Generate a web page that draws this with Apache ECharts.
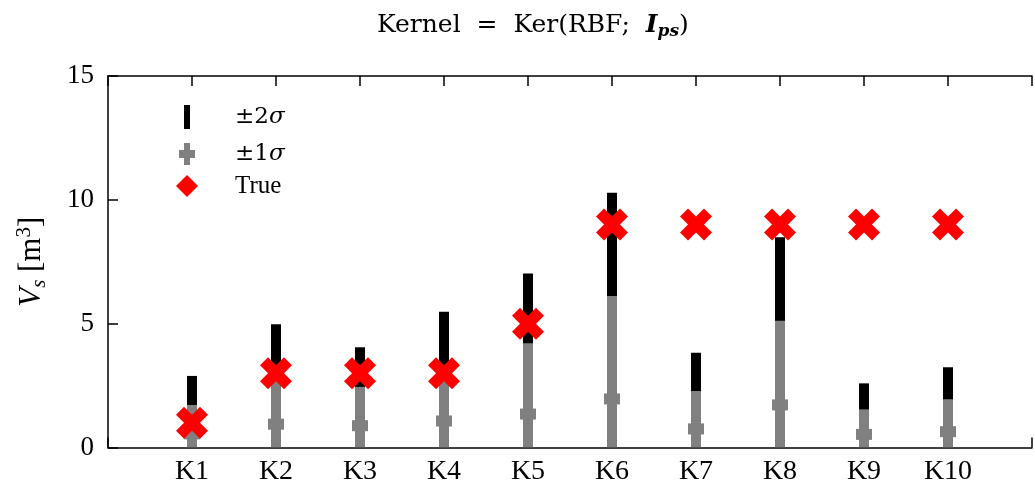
<!DOCTYPE html>
<html>
<head>
<meta charset="utf-8">
<script src="https://cdn.jsdelivr.net/npm/echarts@6/dist/echarts.min.js"></script>
<style>
  html, body { margin: 0; padding: 0; background: #fff; }
  #chart { width: 1035px; height: 491px; }
</style>
</head>
<body>
<div id="chart"></div>
<script>
// categories K1..K10 sit at x = 1..10
const categories = ['K1', 'K2', 'K3', 'K4', 'K5', 'K6', 'K7', 'K8', 'K9', 'K10']
// top of the +2 sigma band (black)
const upper2Sigma = [2.89, 4.98, 4.05, 5.48, 7.03, 10.29, 3.83, 8.49, 2.59, 3.24]
// top of the +1 sigma band (gray)
const upper1Sigma = [1.72, 2.95, 2.45, 3.27, 4.21, 6.12, 2.28, 5.12, 1.54, 1.95]
// predicted mean (gray tick)
const meanVals = [0.55, 0.94, 0.88, 1.07, 1.35, 1.96, 0.75, 1.72, 0.53, 0.64]
// true value (red cross)
const trueVals = [1, 3, 3, 3, 5, 9, 9, 9, 9, 9]
const yTicks = [0, 5, 10, 15]

const FONT = 'Liberation Serif'
const MATH = 'DejaVu Serif'
const toPairs = arr => arr.map((v, i) => [i + 1, v])
const crossPath = 'path://M0,2.5L2.5,0L5,2.5L7.5,0L10,2.5L7.5,5L10,7.5L7.5,10L5,7.5L2.5,10L0,7.5L2.5,5Z'

const chart = echarts.init(document.getElementById('chart'))

const legendRich = {
  n: { fontFamily: FONT, fontSize: 25, color: '#000' },
  m: { fontFamily: MATH, fontSize: 23, color: '#000' },
  s: { fontFamily: MATH, fontSize: 23, fontStyle: 'italic', color: '#000' }
}
const legendFormatter = name => {
  if (name === '±2σ') return '{m|±2}{s|σ}'
  if (name === '±1σ') return '{m|±1}{s|σ}'
  return '{n|' + name + '}'
}
const makeLegend = (name, icon, top) => ({
  data: [{ name: name, icon: icon }],
  left: 167,
  top: top,
  orient: 'vertical',
  itemWidth: 58,
  itemHeight: 26,
  itemGap: 0,
  selectedMode: false,
  formatter: legendFormatter,
  textStyle: { rich: legendRich }
})

const option = {
  animation: false,
  title: {
    text: '{n|Kernel  =  Ker(RBF;  }{b|I}{bs|ps}{n|)}',
    left: 372,
    top: 6,
    textStyle: {
      fontWeight: 'normal',
      rich: {
        n: { fontFamily: MATH, fontSize: 25, fontWeight: 'normal', color: '#000' },
        b: { fontFamily: MATH, fontSize: 25, fontWeight: 'bold', fontStyle: 'italic', color: '#000' },
        bs: { fontFamily: MATH, fontSize: 17, fontWeight: 'bold', fontStyle: 'italic', color: '#000', padding: [12, 0, 0, 0] }
      }
    }
  },
  legend: [
    makeLegend('±2σ', 'path://M0,0M58,26M12,1h6v24h-6z', 99),
    makeLegend('±1σ', 'path://M0,0M58,26M12,2h6v7h5v8h-5v7h-6v-7h-5v-8h5z', 136),
    makeLegend('True', 'path://M0,0M58,26M15,2L26,13L15,24L4,13z', 168)
  ],
  grid: {
    left: 108,
    right: -10,
    top: 76,
    bottom: 43.5
  },
  xAxis: [
    {
      type: 'value',
      min: 0,
      max: 11,
      interval: 1,
      splitLine: { show: false },
      axisLine: { lineStyle: { color: '#000', width: 1.5 } },
      axisTick: { inside: true, length: 10, lineStyle: { color: '#000', width: 1.5 } },
      axisLabel: {
        margin: 10,
        fontFamily: FONT,
        fontSize: 28,
        color: '#000',
        formatter: v => (v >= 1 && v <= categories.length ? categories[v - 1] : '')
      }
    },
    {
      type: 'value',
      position: 'top',
      min: 0,
      max: 11,
      interval: 1,
      splitLine: { show: false },
      axisLine: { show: true, lineStyle: { color: '#000', width: 1.5 } },
      axisTick: { inside: true, length: 10, lineStyle: { color: '#000', width: 1.5 } },
      axisLabel: { show: false }
    }
  ],
  yAxis: {
    type: 'value',
    min: yTicks[0],
    max: yTicks[yTicks.length - 1],
    interval: 5,
    splitLine: { show: false },
    axisLine: { show: true, lineStyle: { color: '#000', width: 1.5 } },
    axisTick: { inside: true, length: 10, lineStyle: { color: '#000', width: 1.5 } },
    axisLabel: { margin: 14, fontFamily: FONT, fontSize: 27, color: '#000' },
    name: '{v|V}{sub|s}{n| [m}{sup|3}{n|]}',
    nameLocation: 'middle',
    nameRotate: 90,
    nameGap: 58,
    nameTextStyle: {
      rich: {
        v: { fontFamily: FONT, fontSize: 31, fontStyle: 'italic', color: '#000' },
        n: { fontFamily: FONT, fontSize: 31, color: '#000' },
        sub: { fontFamily: FONT, fontSize: 21, fontStyle: 'italic', color: '#000', padding: [15, 0, 0, 0] },
        sup: { fontFamily: FONT, fontSize: 21, color: '#000', padding: [0, 0, 15, 0] }
      }
    }
  },
  series: [
    {
      name: '±2σ',
      type: 'bar',
      data: toPairs(upper2Sigma),
      barWidth: 10,
      barGap: '-100%',
      itemStyle: { color: '#000' },
      z: 2
    },
    {
      name: '±1σ',
      type: 'bar',
      data: toPairs(upper1Sigma),
      barWidth: 10,
      barGap: '-100%',
      itemStyle: { color: '#808080' },
      z: 3
    },
    {
      name: 'mean',
      type: 'scatter',
      data: toPairs(meanVals),
      symbol: 'rect',
      symbolSize: [16, 11],
      itemStyle: { color: '#808080', opacity: 1 },
      z: 4
    },
    {
      name: 'True',
      type: 'scatter',
      data: toPairs(trueVals),
      symbol: crossPath,
      symbolSize: 32,
      itemStyle: { color: '#ff0000', opacity: 1 },
      z: 5
    }
  ]
}

chart.setOption(option)
</script>
</body>
</html>
